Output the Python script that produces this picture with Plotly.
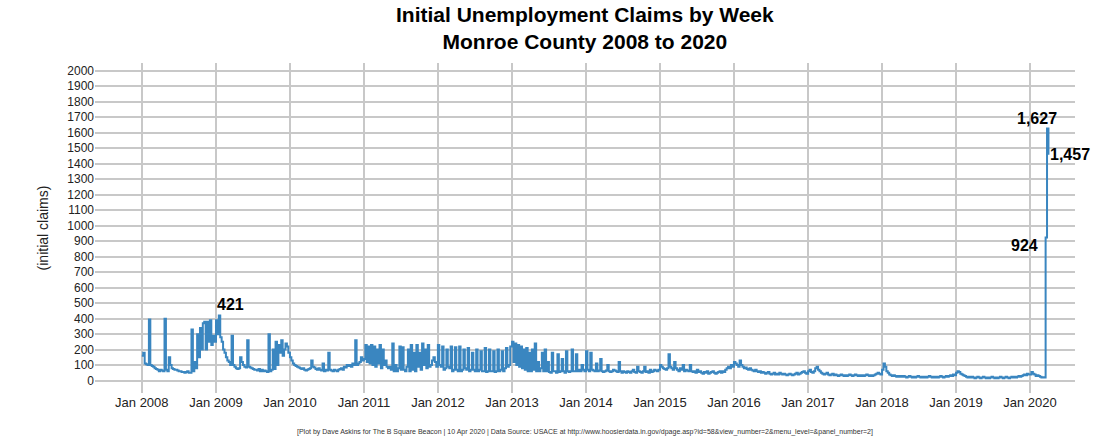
import plotly.graph_objects as go
import pandas as pd

v2008 = [160,180,110,105,100,395,100,95,90,80,75,70,60,70,65,60,400,70,60,150,100,80,75,70,70,65,60,60,55,55,50,55,60,50,50,330,60,120,80,300,150,340,200,370,380,200,380,250,390,230,290,250]
v2009 = [390,300,421,280,250,200,180,150,130,120,100,290,100,90,80,75,80,150,120,100,90,85,260,90,85,80,75,70,70,65,75,60,70,60,65,60,55,300,60,70,200,75,250,100,230,180,260,160,200,240,220,180]
v2010 = [150,130,110,100,95,90,85,80,75,80,70,65,70,75,80,130,90,85,75,70,80,70,65,110,60,70,65,180,70,65,60,70,65,60,70,75,80,70,90,85,100,95,100,90,110,100,260,100,110,120,150,130]
v2011 = [140,230,120,220,110,230,100,220,90,200,110,230,80,200,100,130,90,80,90,70,240,60,100,60,80,220,70,215,70,60,90,200,60,230,70,180,60,230,90,180,70,240,100,200,80,230,90,100,130,150,120,90]
v2012 = [230,100,90,220,70,80,200,90,80,220,60,70,215,70,60,220,60,70,200,80,70,210,60,70,180,70,60,200,60,70,190,60,60,210,55,60,200,60,60,190,55,60,200,60,70,190,60,80,210,90,100,220]
v2013 = [250,120,240,100,230,90,220,80,200,70,210,60,180,60,200,70,240,60,120,60,80,180,60,200,60,120,55,50,180,60,60,50,170,55,60,140,60,50,190,60,55,60,200,60,60,170,60,70,60,100,70,60]
v2014 = [190,70,60,180,70,65,60,110,60,65,140,60,55,60,65,100,60,55,60,70,65,60,55,120,60,50,60,55,50,60,55,50,60,70,55,50,90,60,55,50,60,90,55,60,50,70,55,60,70,65,60,70]
v2015 = [100,90,80,75,70,80,170,90,80,70,120,80,70,60,80,70,100,60,70,65,60,100,60,55,60,50,70,55,60,50,45,55,50,60,45,50,55,60,50,45,50,55,60,50,60,55,70,80,90,80,100,90]
v2016 = [120,110,100,90,130,100,90,80,85,75,70,80,70,65,60,70,60,55,60,50,55,50,45,50,55,45,40,45,50,40,45,40,50,45,40,45,40,35,40,45,40,35,40,45,50,40,45,50,55,60,50,45]
v2017 = [60,70,55,50,60,80,90,70,60,50,45,40,45,50,40,35,40,45,35,40,35,30,35,40,35,30,35,30,35,40,35,30,35,40,35,30,35,30,35,30,35,40,35,30,35,30,35,40,45,50,45,40]
v2018 = [70,110,90,60,50,40,35,30,35,30,25,30,25,30,25,30,25,20,25,30,25,20,25,20,25,30,25,20,25,20,25,20,25,30,25,20,25,20,25,20,25,30,25,20,25,30,25,30,35,30,40,35]
v2019 = [50,60,55,45,40,35,30,25,20,25,20,25,20,15,20,25,20,15,20,25,20,15,20,15,20,25,20,15,20,15,20,25,20,15,20,25,20,15,20,25,20,25,20,25,30,25,30,35,40,35,45,40]
v2020 = [40,55,45,40,30,35,30,25,20,22,20,924,1627,1457]

years = list(range(2008, 2021))
series = [v2008,v2009,v2010,v2011,v2012,v2013,v2014,v2015,v2016,v2017,v2018,v2019,v2020]
dates, vals = [], []
for y, s in zip(years, series):
    d = pd.date_range(pd.Timestamp(f"{y}-01-01"), periods=len(s), freq="7D")
    dates += list(d); vals += s

tick_vals = [f"{y}-01-01" for y in range(2008, 2021)]
tick_text = [f"Jan {y}" for y in range(2008, 2021)]

fig = go.Figure(go.Scatter(x=dates, y=vals, mode="lines", line=dict(color="#3a86c0", width=2, shape="hv"), hoverinfo="skip"))

fig.add_annotation(x=dates[len(v2008)+2], y=v2009[2], text="<b>421</b>", showarrow=False, yanchor="bottom", xanchor="left", xshift=-4, font=dict(size=16, color="black"))
n = len(dates)
fig.add_annotation(x=dates[n-3], y=v2020[-3], text="<b>924</b>", showarrow=False, xanchor="right", xshift=-6, yshift=-8, font=dict(size=16, color="black"))
fig.add_annotation(x=dates[n-2], y=v2020[-2], text="<b>1,627</b>", showarrow=False, xanchor="center", yanchor="bottom", xshift=-10, font=dict(size=16, color="black"))
fig.add_annotation(x=dates[n-1], y=v2020[-1], text="<b>1,457</b>", showarrow=False, xanchor="left", xshift=0, font=dict(size=16, color="black"))
fig.add_annotation(x=0.5, y=-0.135, xref="paper", yref="paper", showarrow=False,
    text="[Plot by Dave Askins for The B Square Beacon | 10 Apr 2020 | Data Source: USACE at http://www.hoosierdata.in.gov/dpage.asp?id=58&view_number=2&menu_level=&panel_number=2]",
    font=dict(size=7, color="#333"))
fig.add_annotation(x=0.5, y=1.0, xref="paper", yref="paper", yshift=8, showarrow=False, yanchor="bottom",
    text="<b>Initial Unemployment Claims by Week<br>Monroe County 2008 to 2020</b>",
    font=dict(size=21, color="black"))

fig.update_layout(
    width=1100, height=440, autosize=False,
    margin=dict(l=95, r=25, t=63, b=47, autoexpand=False),
    paper_bgcolor="white", plot_bgcolor="white",
    font=dict(family="Liberation Sans, Arial", color="#222"),
    showlegend=False,
    xaxis=dict(range=["2007-05-15", "2020-08-10"], tickvals=tick_vals, ticktext=tick_text, showgrid=True, gridcolor="#c8c8c8", gridwidth=2, zeroline=False, tickfont=dict(size=13), ticks="", showline=False),
    yaxis=dict(range=[-80, 2050], tickvals=list(range(0, 2001, 100)), showgrid=True, gridcolor="#c8c8c8", gridwidth=2, zeroline=False, tickfont=dict(size=12), title=dict(text="(initial claims)", font=dict(size=14)), ticks=""),
)
fig.write_html("out.html", config={"displayModeBar": False}, post_script="document.body.style.margin='0';")
